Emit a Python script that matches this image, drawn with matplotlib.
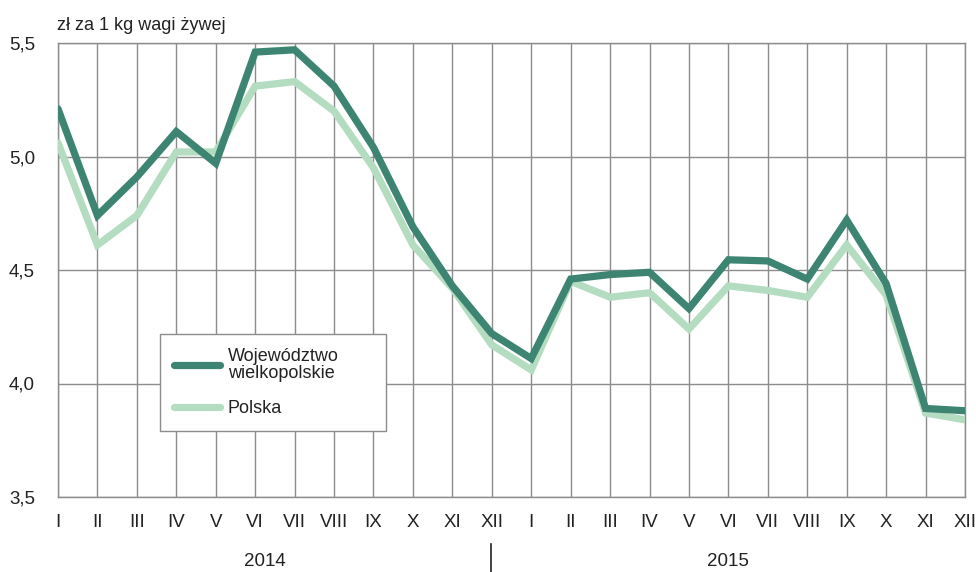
import matplotlib
matplotlib.use("Agg")
import matplotlib.pyplot as plt
from matplotlib.lines import Line2D
from matplotlib.patches import Rectangle

plt.rcParams['font.family'] = ['Liberation Sans', 'DejaVu Sans']

months = ["I", "II", "III", "IV", "V", "VI", "VII", "VIII", "IX", "X", "XI", "XII"]
years = ["2014", "2015"]
labels = months + months

wielkopolskie = [5.21, 4.74, 4.91, 5.11, 4.97, 5.46, 5.47, 5.31, 5.04, 4.69, 4.43, 4.22,
                 4.11, 4.46, 4.48, 4.49, 4.33, 4.545, 4.54, 4.46, 4.72, 4.44, 3.89, 3.88]
polska = [5.06, 4.61, 4.74, 5.02, 5.02, 5.31, 5.33, 5.20, 4.95, 4.61, 4.42, 4.17,
          4.06, 4.45, 4.38, 4.40, 4.24, 4.43, 4.41, 4.38, 4.61, 4.39, 3.87, 3.84]
yticks = [3.5, 4.0, 4.5, 5.0, 5.5]
ytick_labels = ["3,5", "4,0", "4,5", "5,0", "5,5"]

dark = "#3d8572"
light = "#b3dcc0"
grid = "#8c8c8c"
txt = "#222222"

fig = plt.figure(figsize=(9.76, 5.72), dpi=100)
ax = fig.add_axes([58/976, 75/572, 907/976, 454/572])

x = list(range(len(labels)))
ax.plot(x, polska, color=light, lw=5.2, solid_joinstyle='miter', solid_capstyle='round', zorder=3)
ax.plot(x, wielkopolskie, color=dark, lw=5.2, solid_joinstyle='miter', solid_capstyle='round', zorder=4)

ax.set_xlim(0, len(labels) - 1)
ax.set_ylim(3.5, 5.5)
ax.set_yticks(yticks)
ax.set_yticklabels(ytick_labels)
ax.set_xticks(x)
ax.set_xticklabels(labels)
ax.tick_params(axis='both', length=0, labelsize=13.5, colors=txt)
ax.tick_params(axis='x', pad=12)
ax.tick_params(axis='y', pad=16.5)

ax.grid(True, color=grid, lw=1.0, zorder=1)
for s in ax.spines.values():
    s.set_color(grid)
    s.set_linewidth(1.0)
ax.set_axisbelow(True)

# year labels
ax.text(5.25, -0.143, years[0], transform=ax.get_xaxis_transform(), ha='center', va='center',
        fontsize=13.5, color=txt)
ax.text(17.0, -0.143, years[1], transform=ax.get_xaxis_transform(), ha='center', va='center',
        fontsize=13.5, color=txt)
sep = Line2D([491/976, 491/976], [0, 28/572], transform=fig.transFigure, color=txt, lw=1.2)
fig.add_artist(sep)

fig.text(57/976, 1 - 25/572, "zł za 1 kg wagi żywej", ha='left', va='center', fontsize=13, color=txt)

# legend box (drawn separately to match its size)
bx0, by0 = (160 - 58) / 907, (497 - 431) / 454
bw, bh = (386 - 160) / 907, (431 - 334) / 454
ax.add_patch(Rectangle((bx0, by0), bw, bh, transform=ax.transAxes, facecolor='white',
                       edgecolor=grid, lw=1.0, zorder=5))

handles = [Line2D([], [], color=dark, lw=5.2, solid_capstyle='round'),
           Line2D([], [], color=light, lw=5.2, solid_capstyle='round')]
leg = ax.legend(handles, ["Województwo\nwielkopolskie", "Polska"], loc='upper left',
                bbox_to_anchor=((160 - 58) / 907, (497 - 334) / 454),
                frameon=False, fontsize=13, handlelength=2.5,
                handletextpad=0.45, labelspacing=1.0, borderpad=0.8, borderaxespad=0)
leg.set_zorder(6)
for t in leg.get_texts():
    t.set_color(txt)
    t.set_linespacing(0.95)

fig.savefig("out.png", dpi=100)
